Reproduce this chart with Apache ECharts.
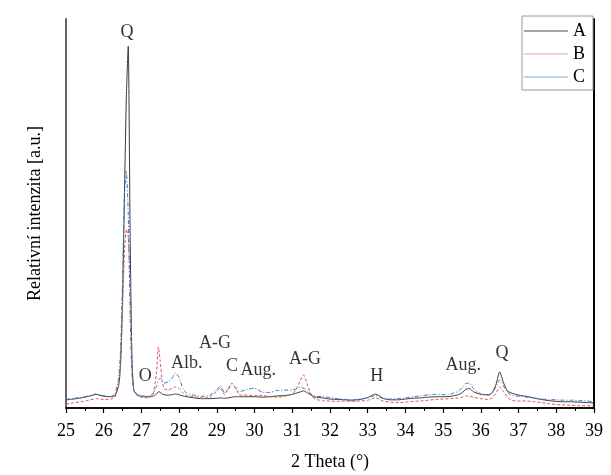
<!DOCTYPE html>
<html>
<head>
<meta charset="utf-8">
<script src="https://cdn.jsdelivr.net/npm/echarts@6/dist/echarts.min.js"></script>
<style>
  html, body { margin: 0; padding: 0; background: #fff; }
  #chart { width: 611px; height: 475px; }
</style>
</head>
<body>
<div id="chart"></div>
<script>
// Diffraction angle 2θ (degrees)
const twoTheta = [
  25.0, 25.2, 25.4, 25.6, 25.8, 26.0, 26.2, 26.3, 26.4, 26.45,
  26.5, 26.55, 26.6, 26.65, 26.7, 26.75, 26.8, 26.9, 27.0, 27.1,
  27.2, 27.3, 27.4, 27.45, 27.5, 27.55, 27.6, 27.7, 27.8, 27.9,
  28.0, 28.1, 28.2, 28.4, 28.6, 28.8, 29.0, 29.1, 29.2, 29.3,
  29.4, 29.5, 29.6, 29.8, 30.0, 30.2, 30.4, 30.6, 30.8, 31.0,
  31.1, 31.2, 31.3, 31.4, 31.5, 31.6, 31.8, 32.0, 32.2, 32.4,
  32.6, 32.8, 33.0, 33.1, 33.2, 33.3, 33.4, 33.6, 33.8, 34.0,
  34.2, 34.4, 34.6, 34.8, 35.0, 35.2, 35.4, 35.5, 35.6, 35.7,
  35.8, 36.0, 36.2, 36.3, 36.4, 36.5, 36.6, 36.7, 36.8, 37.0,
  37.2, 37.4, 37.6, 37.8, 38.0, 38.2, 38.4, 38.6, 38.8, 39.0
];

// Relative intensity of sample A
const intensityA = [
  2.1, 2.3, 2.6, 3.0, 3.5, 3.0, 2.9, 3.2, 6, 12,
  28, 55, 80, 93, 45, 12, 4.5, 3.3, 3.0, 2.9,
  2.9, 3.0, 3.6, 4.2, 4.0, 3.6, 3.4, 3.3, 3.4, 3.6,
  3.4, 3.1, 2.9, 2.6, 2.4, 2.4, 2.5, 2.6, 2.5, 2.6,
  2.8, 2.9, 2.9, 2.9, 2.9, 2.8, 2.9, 3.1, 3.2, 3.5,
  3.8, 4.1, 4.4, 3.9, 3.3, 2.8, 2.6, 2.3, 2.2, 2.1,
  2.0, 2.2, 2.7, 3.2, 3.6, 3.2, 2.5, 2.1, 2.1, 2.3,
  2.5, 2.6, 2.8, 2.9, 2.9, 3.0, 3.4, 3.9, 4.8, 5.0,
  4.2, 3.5, 3.4, 3.9, 6.0, 9.3, 6.5, 4.4, 3.9, 3.3,
  3.0, 2.6, 2.2, 1.9, 1.7, 1.6, 1.6, 1.5, 1.4, 1.3
];

// Relative intensity of sample B
const intensityB = [
  1.0, 1.3, 1.6, 2.0, 2.4, 2.2, 2.3, 2.8, 6, 12,
  26, 40, 46, 44, 32, 12, 4.5, 3.0, 2.7, 2.6,
  2.7, 3.2, 9, 15.7, 12, 7, 5, 4.6, 5.0, 5.4,
  5.0, 3.8, 3.2, 2.9, 2.6, 2.7, 4.3, 5.2, 3.4, 5.0,
  6.4, 5.0, 3.4, 3.3, 3.2, 3.2, 2.9, 2.8, 3.0, 3.6,
  4.8, 6.8, 8.5, 6.0, 3.4, 2.3, 1.9, 1.8, 1.7, 1.8,
  1.7, 1.8, 2.0, 2.3, 2.6, 2.3, 1.8, 1.5, 1.4, 1.5,
  1.7, 1.8, 2.0, 2.2, 2.3, 2.4, 2.6, 2.8, 3.1, 3.0,
  2.8, 2.4, 2.2, 2.6, 3.8, 5.4, 4.2, 2.8, 2.0, 1.8,
  1.8, 1.6, 1.4, 1.1, 0.9, 0.8, 0.7, 0.6, 0.6, 0.5
];

// Relative intensity of sample C
const intensityC = [
  2.2, 2.5, 2.7, 3.1, 3.6, 3.2, 3.0, 3.6, 8, 16,
  33, 55, 61, 50, 24, 8, 4.5, 3.5, 3.2, 3.0,
  3.1, 3.6, 5.5, 7.2, 7.7, 6.8, 6.4, 6.7, 7.5, 9.0,
  7.8, 5.0, 3.8, 3.3, 3.0, 3.2, 4.8, 5.7, 3.9, 4.8,
  5.9, 5.3, 4.2, 4.8, 5.1, 4.1, 4.0, 4.5, 4.6, 4.6,
  4.9, 5.3, 5.1, 4.4, 3.6, 3.1, 2.9, 2.7, 2.4, 2.2,
  2.1, 2.3, 2.6, 2.9, 3.2, 2.9, 2.5, 2.3, 2.4, 2.6,
  2.9, 3.1, 3.4, 3.5, 3.4, 3.6, 4.3, 5.2, 6.3, 6.4,
  5.0, 3.6, 3.3, 3.8, 5.4, 7.2, 5.6, 4.1, 3.3, 3.0,
  2.8, 2.5, 2.3, 2.2, 2.1, 2.0, 2.0, 1.9, 1.8, 1.6
];

// Phase labels: text, 2θ and intensity where they sit
const phaseNames = ['Q', 'O', 'Alb.', 'A-G', 'C', 'Aug.', 'A-G', 'H', 'Aug.', 'Q'];
const phaseTheta = [26.62, 27.1, 28.2, 28.95, 29.4, 30.1, 31.34, 33.24, 35.53, 36.56];
const phaseLevel = [96.6, 8.2, 11.6, 16.7, 10.8, 9.8, 12.6, 8.2, 11, 14.1];

const seriesNames = ['A', 'B', 'C'];
const serif = '"Liberation Serif", "DejaVu Serif", serif';

const zip = ys => twoTheta.map((x, i) => [x, ys[i]]);

const lineSeries = (name, ys, color, type, width) => ({
  name: name,
  type: 'line',
  data: zip(ys),
  symbol: 'none',
  showSymbol: false,
  smooth: 0.2,
  lineStyle: { color: color, width: width, type: type },
  itemStyle: { color: color },
  z: 2
});

const chart = echarts.init(document.getElementById('chart'));
chart.setOption({
  backgroundColor: '#ffffff',
  animation: false,
  textStyle: { fontFamily: serif },
  grid: { left: 66, right: 17, top: 19, bottom: 67, outerBoundsMode: 'none', containLabel: false },
  legend: {
    data: [
      { name: seriesNames[0], itemStyle: { color: '#8a8a8a' } },
      { name: seriesNames[1], itemStyle: { color: '#efc0c4' } },
      { name: seriesNames[2], itemStyle: { color: '#a9c3e6' } }
    ],
    icon: 'rect',
    orient: 'vertical',
    right: 18,
    top: 16,
    itemWidth: 44,
    itemHeight: 1.5,
    itemGap: 5,
    padding: [6, 7, 4, 2],
    backgroundColor: '#ffffff',
    borderColor: '#9a9a9a',
    borderWidth: 1,
    textStyle: { fontFamily: serif, fontSize: 18, color: '#000' },
    z: 10
  },
  xAxis: [
    {
      type: 'value',
      min: 25,
      max: 39,
      interval: 1,
      name: '2 Theta (°)',
      nameLocation: 'middle',
      nameGap: 45,
      nameTextStyle: { fontFamily: serif, fontSize: 18, color: '#000' },
      axisLine: { lineStyle: { color: '#000', width: 1.5 } },
      axisTick: { inside: false, length: 5, lineStyle: { color: '#000', width: 1.2 } },
      minorTick: { show: true, splitNumber: 2, length: 3, lineStyle: { color: '#000', width: 1 } },
      axisLabel: { fontFamily: serif, fontSize: 18, color: '#000', margin: 14 },
      splitLine: { show: false }
    },
    {
      type: 'value',
      position: 'top',
      min: 25,
      max: 39,
      axisLine: { show: true, lineStyle: { color: '#000', width: 1.5 } },
      axisTick: { show: false },
      axisLabel: { show: false },
      splitLine: { show: false }
    }
  ],
  yAxis: [
    {
      type: 'value',
      min: 0,
      max: 100,
      name: 'Relativní intenzita [a.u.]',
      nameLocation: 'middle',
      nameGap: 22,
      nameTextStyle: { fontFamily: serif, fontSize: 18, color: '#000' },
      axisLine: { show: true, lineStyle: { color: '#666', width: 2 } },
      axisTick: { show: false },
      axisLabel: { show: false },
      splitLine: { show: false }
    },
    {
      type: 'value',
      position: 'right',
      min: 0,
      max: 100,
      axisLine: { show: true, lineStyle: { color: '#000', width: 2 } },
      axisTick: { show: false },
      axisLabel: { show: false },
      splitLine: { show: false }
    }
  ],
  series: [
    lineSeries(seriesNames[0], intensityA, '#3a3a3a', 'solid', 1),
    lineSeries(seriesNames[1], intensityB, '#d9545a', [3, 2], 1),
    lineSeries(seriesNames[2], intensityC, '#3a73c4', [4, 2, 1, 2], 1),
    {
      type: 'scatter',
      silent: true,
      symbolSize: 0,
      data: phaseNames.map((n, i) => ({ name: n, value: [phaseTheta[i], phaseLevel[i]] })),
      label: {
        show: true,
        position: 'inside',
        formatter: p => p.name,
        fontFamily: serif,
        fontSize: 18,
        color: '#000'
      },
      z: 5
    }
  ]
});
</script>
</body>
</html>
